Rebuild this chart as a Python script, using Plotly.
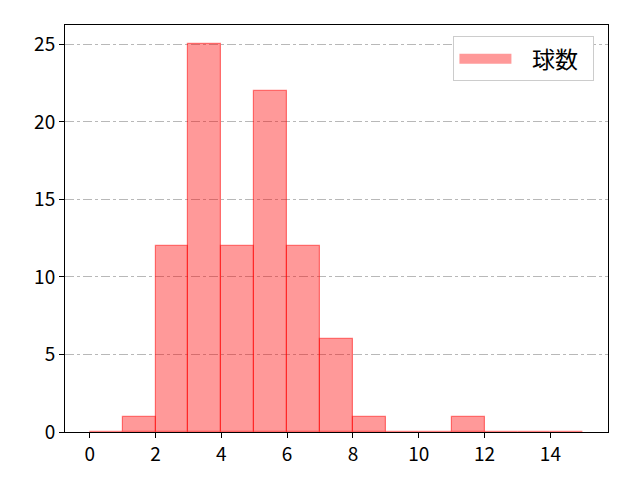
import plotly.graph_objects as go

# histogram bins (left edges) and counts
bin_left = list(range(0, 15))
counts = [0, 1, 12, 25, 12, 22, 12, 6, 1, 0, 0, 1, 0, 0, 0]
series_name = "球数"
x_ticks = [0, 2, 4, 6, 8, 10, 12, 14]
y_ticks = [0, 5, 10, 15, 20, 25]

centers = [b + 0.5 for b in bin_left]
fill = "rgba(255,0,0,0.4)"
edge = "rgba(255,0,0,0.5)"

fig = go.Figure()
fig.add_trace(go.Bar(
    x=centers, y=counts, width=1, name=series_name,
    marker=dict(color=fill, line=dict(color=edge, width=1.2)),
    showlegend=False,
))
# legend entry drawn as a wide patch, like matplotlib (nbsp used as padding)
pad = "\u00a0"
fig.add_trace(go.Scatter(
    x=[None], y=[None], mode="lines", name=pad * 3 + series_name + pad * 2,
    line=dict(color=fill, width=17), showlegend=True,
))

# page body has an 8px margin, margins are shifted to compensate
fig.update_layout(
    width=640, height=480,
    margin=dict(l=57, r=40, t=17, b=56),
    paper_bgcolor="white", plot_bgcolor="white",
    font=dict(family="Noto Sans CJK JP", size=19, color="black"),
    bargap=0,
    legend=dict(x=0.975, y=0.972, xanchor="right", yanchor="top",
                bgcolor="white", bordercolor="#cccccc", borderwidth=1,
                font=dict(size=23), itemwidth=52),
)
fig.update_xaxes(range=[-0.75, 15.75], tickvals=x_ticks, showgrid=False,
                 showline=True, linecolor="black", linewidth=1, mirror=True,
                 ticks="outside", ticklen=5, tickcolor="black", zeroline=False)
fig.update_yaxes(range=[0, 26.25], tickvals=y_ticks, showgrid=True,
                 gridcolor="#b8b8b8", griddash="dashdot", gridwidth=1,
                 showline=True, linecolor="black", linewidth=1, mirror=True,
                 ticks="outside", ticklen=5, tickcolor="black", zeroline=False)

fig.write_html("out.html")
